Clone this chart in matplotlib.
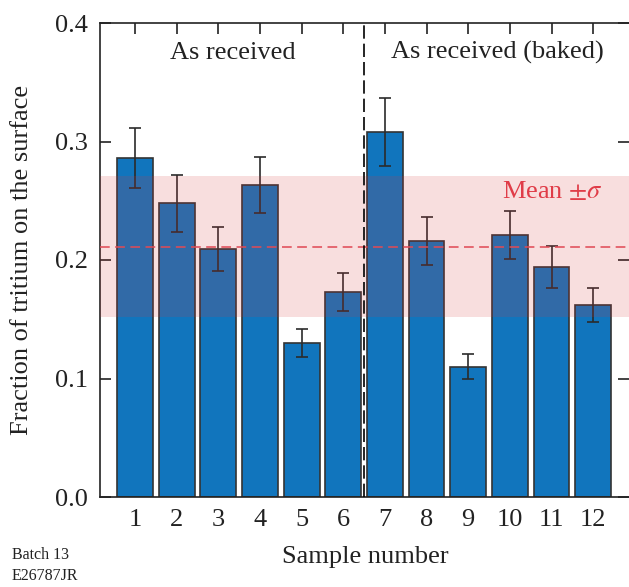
import matplotlib
matplotlib.use("Agg")
import matplotlib.pyplot as plt
import numpy as np

samples = [1, 2, 3, 4, 5, 6, 7, 8, 9, 10, 11, 12]
fraction = [0.286, 0.248, 0.209, 0.2635, 0.130, 0.1727, 0.308, 0.216, 0.110, 0.221, 0.194, 0.162]
errors = [0.025, 0.024, 0.0185, 0.0235, 0.012, 0.016, 0.0285, 0.0205, 0.0107, 0.020, 0.0176, 0.0146]
mean_value = 0.211
band_low = 0.152
band_high = 0.271
yticks = [0.0, 0.1, 0.2, 0.3, 0.4]
ytick_labels = ["0.0", "0.1", "0.2", "0.3", "0.4"]
group_labels = ["As received", "As received (baked)"]

plt.rcParams['font.family'] = ['Liberation Serif', 'DejaVu Serif']
plt.rcParams['mathtext.fontset'] = 'stix'

fig = plt.figure(figsize=(6.29, 5.87), dpi=100)
ax = fig.add_axes([100/629, 1-497/587, 1-100/629, (497-23)/587])

ax.bar(samples, fraction, width=0.86, color='#1175bd', edgecolor='#333333',
       linewidth=1.2, zorder=2)
ax.errorbar(samples, fraction, yerr=errors, fmt='none', ecolor='#2b2b2b',
            elinewidth=1.2, capsize=4.5, capthick=1.2, zorder=2.5)

ax.axhspan(band_low, band_high, color='#d93237', alpha=0.16, linewidth=0, zorder=3)
ml = ax.axhline(mean_value, color='#e04a55', lw=1.4, alpha=0.8, zorder=4)
ml.set_dashes((5, 2.8))
vl = ax.axvline(6.5, color='black', lw=1.2, zorder=4)
vl.set_dashes((8, 3))

ax.text(12.22, 0.258, r'Mean $\pm\sigma$', color='#e03c48', fontsize=19,
        ha='right', va='center', zorder=5)
ax.text(3.35, 0.375, group_labels[0], fontsize=19, ha='center', va='center', color='#222222')
ax.text(9.7, 0.375, group_labels[1], fontsize=19, ha='center', va='center', color='#222222')

ax.set_xlim(0.16, 12.86)
ax.set_ylim(0, 0.4)
ax.set_xticks(samples)
ax.set_xticklabels([str(s) for s in samples])
ax.set_yticks(yticks)
ax.set_yticklabels(ytick_labels)
ax.tick_params(direction='in', length=8, width=1.2, top=True, right=True,
               labelsize=19, colors='#222222', pad=9)
for side in ['left', 'bottom', 'top']:
    ax.spines[side].set_linewidth(1.2)
    ax.spines[side].set_color('#222222')
ax.spines['right'].set_visible(False)

fig.text(365/629, 1-557/587, 'Sample number', fontsize=19, ha='center', va='center', color='#222222')
fig.text(22/629, 1-260/587, 'Fraction of tritium on the surface', fontsize=19,
         rotation=90, ha='center', va='center', color='#222222')
fig.text(12/629, 1-555/587, 'Batch 13', fontsize=11.5, ha='left', va='center', color='#222222')
fig.text(12/629, 1-576/587, 'E26787JR', fontsize=11.5, ha='left', va='center', color='#222222')

fig.savefig('out.png', dpi=100)
